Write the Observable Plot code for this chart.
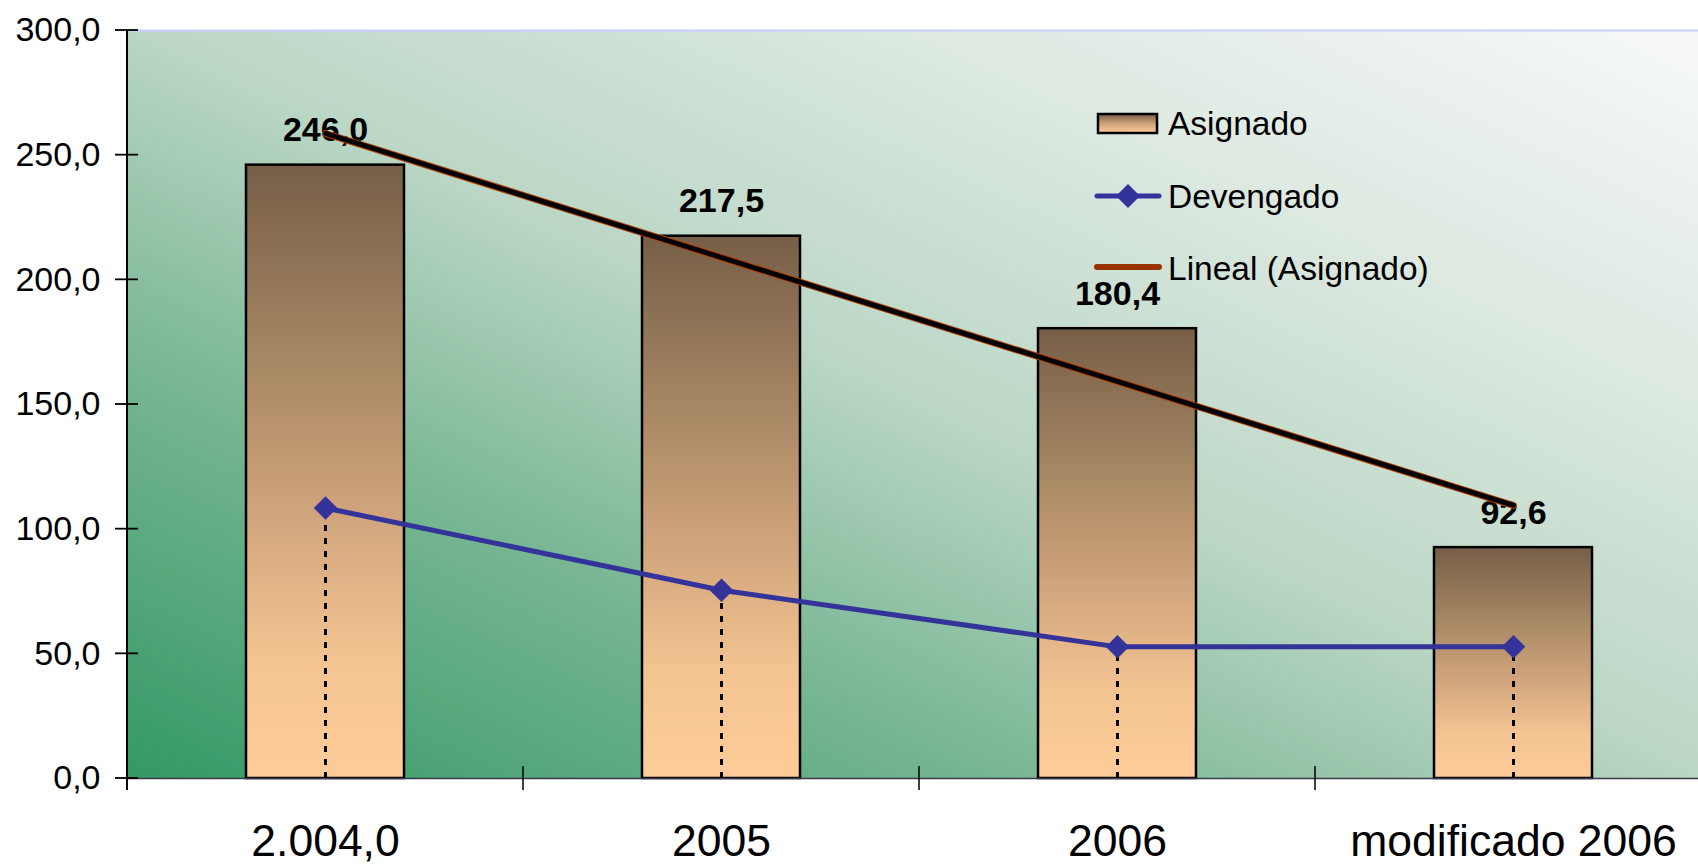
<!DOCTYPE html>
<html><head><meta charset="utf-8">
<script src="https://cdn.jsdelivr.net/npm/d3@7"></script>
<script src="https://cdn.jsdelivr.net/npm/@observablehq/plot@0.6"></script>
<style>
html,body{margin:0;padding:0;background:#fff;overflow:hidden;}
#wrap{position:relative;width:1698px;height:865px;overflow:hidden;}
#wrap > svg.main{max-width:none !important;width:1711px;height:865px;display:block;}
#legend{position:absolute;left:0;top:0;pointer-events:none;}
</style></head><body><div id="wrap"></div>
<script>
const categories = ["2.004,0", "2005", "2006", "modificado 2006"];
const asignado = [246.0, 217.5, 180.4, 92.6];
const devengado = [108.5, 75.5, 52.8, 52.8];
const trendCategories = ["2.004,0", "modificado 2006"];
const trendValues = [258.7, 109.5];
const yTicks = [0, 50, 100, 150, 200, 250, 300];
const legendLabels = ["Asignado", "Devengado", "Lineal (Asignado)"];

const fmt = v => v.toFixed(1).replace(".", ",");
const barData = categories.map((c, i) => ({cat: c, value: asignado[i], label: fmt(asignado[i])}));
const devData = categories.map((c, i) => ({cat: c, value: devengado[i]}));
const trendData = trendCategories.map((c, i) => ({cat: c, value: trendValues[i]}));

function axisTicks(index, scales, values, dimensions) {
  const x = scales.x, y = scales.y;
  const n = categories.length;
  const step = typeof x.step === "function" ? x.step() : (dimensions.width - dimensions.marginLeft - dimensions.marginRight) / n;
  const bw = typeof x.bandwidth === "function" ? x.bandwidth() : step * 0.4;
  const g = d3.create("svg:g").attr("stroke", "#000").attr("fill", "none");
  const y0 = y(0);
  categories.forEach(c => {
    const bx = x(c) + bw / 2 - step / 2;
    g.append("line").attr("x1", bx).attr("x2", bx).attr("y1", y0 - 12).attr("y2", y0 + 12).attr("stroke-width", 1.5);
  });
  yTicks.forEach(t => {
    g.append("line").attr("x1", dimensions.marginLeft - 12).attr("x2", dimensions.marginLeft + 11)
      .attr("y1", y(t)).attr("y2", y(t)).attr("stroke-width", 1.8);
  });
  g.append("line").attr("x1", dimensions.marginLeft).attr("x2", dimensions.marginLeft)
    .attr("y1", y(yTicks[yTicks.length - 1])).attr("y2", y0 + 12).attr("stroke-width", 2);
  return g.node();
}

const plot = Plot.plot({
  width: 1711,
  height: 865,
  marginLeft: 127,
  marginRight: 0,
  marginTop: 30,
  marginBottom: 87,
  style: {fontFamily: "'Liberation Sans', Arial, sans-serif", background: "transparent", color: "#000"},
  x: {type: "band", domain: categories, paddingInner: 0.6, paddingOuter: 0.3, label: null},
  y: {domain: [0, 300], label: null},
  marks: [
    Plot.frame({fill: "url(#bgGrad)", stroke: "none"}),
    Plot.ruleY([300], {stroke: "#ccccff", strokeWidth: 2}),
    Plot.barY(barData, {x: "cat", y: "value", fill: "url(#barGrad)", stroke: "#000", strokeWidth: 2.5}),
    Plot.ruleY([0], {stroke: "#3a3a4a", strokeWidth: 1.6}),
    Plot.ruleX(devData, {x: "cat", y1: 0, y2: "value", stroke: "#000", strokeWidth: 3, strokeDasharray: "6,7"}),
    Plot.text(barData, {x: "cat", y: "value", text: "label", dy: -24, lineAnchor: "bottom", fontSize: 34, fontWeight: "bold", fill: "#000"}),
    Plot.line(trendData, {x: "cat", y: "value", stroke: "#b34000", strokeWidth: 7}),
    Plot.line(trendData, {x: "cat", y: "value", stroke: "#000", strokeWidth: 5}),
    Plot.line(devData, {x: "cat", y: "value", stroke: "#333399", strokeWidth: 5}),
    Plot.dot(devData, {x: "cat", y: "value", symbol: "diamond2", r: 10.6, fill: "#333399", stroke: "none"}),
    Plot.axisY({ticks: yTicks, tickFormat: fmt, tickSize: 0, tickPadding: 27, fontSize: 34, label: null}),
    Plot.axisX({tickSize: 0, tickPadding: 46, fontSize: 44.5, label: null}),
    axisTicks
  ]
});
plot.classList.add("main");
plot.style.maxWidth = "none";

const svg = d3.select(plot);
const defs = svg.insert("defs", ":first-child");
const bg = defs.append("linearGradient").attr("id", "bgGrad")
  .attr("x1", 0).attr("y1", 1).attr("x2", 1).attr("y2", 0);
[[0, "#339866"], [0.28, "#78b693"], [0.5, "#bad6c5"], [0.75, "#dde9e1"], [1, "#f7f8fa"]]
  .forEach(([o, c]) => bg.append("stop").attr("offset", o).attr("stop-color", c));
const bar = defs.append("linearGradient").attr("id", "barGrad")
  .attr("x1", 0).attr("y1", 0).attr("x2", 0).attr("y2", 1);
[[0, "#775e48"], [0.3, "#a48562"], [0.55, "#cda27a"], [0.8, "#f3c391"], [1, "#fdcc99"]]
  .forEach(([o, c]) => bar.append("stop").attr("offset", o).attr("stop-color", c));

const wrap = document.getElementById("wrap");
wrap.appendChild(plot);

// Legend overlay
const lg = d3.select(wrap).append("svg").attr("id", "legend").attr("width", 1698).attr("height", 865)
  .style("font-family", "'Liberation Sans', Arial, sans-serif");
const lgDefs = lg.append("defs");
const lgGrad = lgDefs.append("linearGradient").attr("id", "lgGrad").attr("x1", 0).attr("y1", 0).attr("x2", 0).attr("y2", 1);
[[0, "#775e48"], [0.5, "#cda27a"], [1, "#fdcc99"]].forEach(([o, c]) => lgGrad.append("stop").attr("offset", o).attr("stop-color", c));
lg.append("rect").attr("x", 1098).attr("y", 114).attr("width", 59).attr("height", 19)
  .attr("fill", "url(#lgGrad)").attr("stroke", "#000").attr("stroke-width", 2.5);
lg.append("line").attr("x1", 1097).attr("x2", 1159).attr("y1", 196).attr("y2", 196)
  .attr("stroke", "#333399").attr("stroke-width", 5).attr("stroke-linecap", "round");
lg.append("path").attr("d", "M1128,184 L1140,196 L1128,208 L1116,196 Z").attr("fill", "#333399");
lg.append("line").attr("x1", 1097).attr("x2", 1159).attr("y1", 267).attr("y2", 267)
  .attr("stroke", "#993300").attr("stroke-width", 6).attr("stroke-linecap", "round");
const ly = [135, 208, 280];
legendLabels.forEach((t, i) => lg.append("text").attr("x", 1168).attr("y", ly[i]).attr("font-size", 33.5).attr("fill", "#000").text(t));
</script></body></html>
